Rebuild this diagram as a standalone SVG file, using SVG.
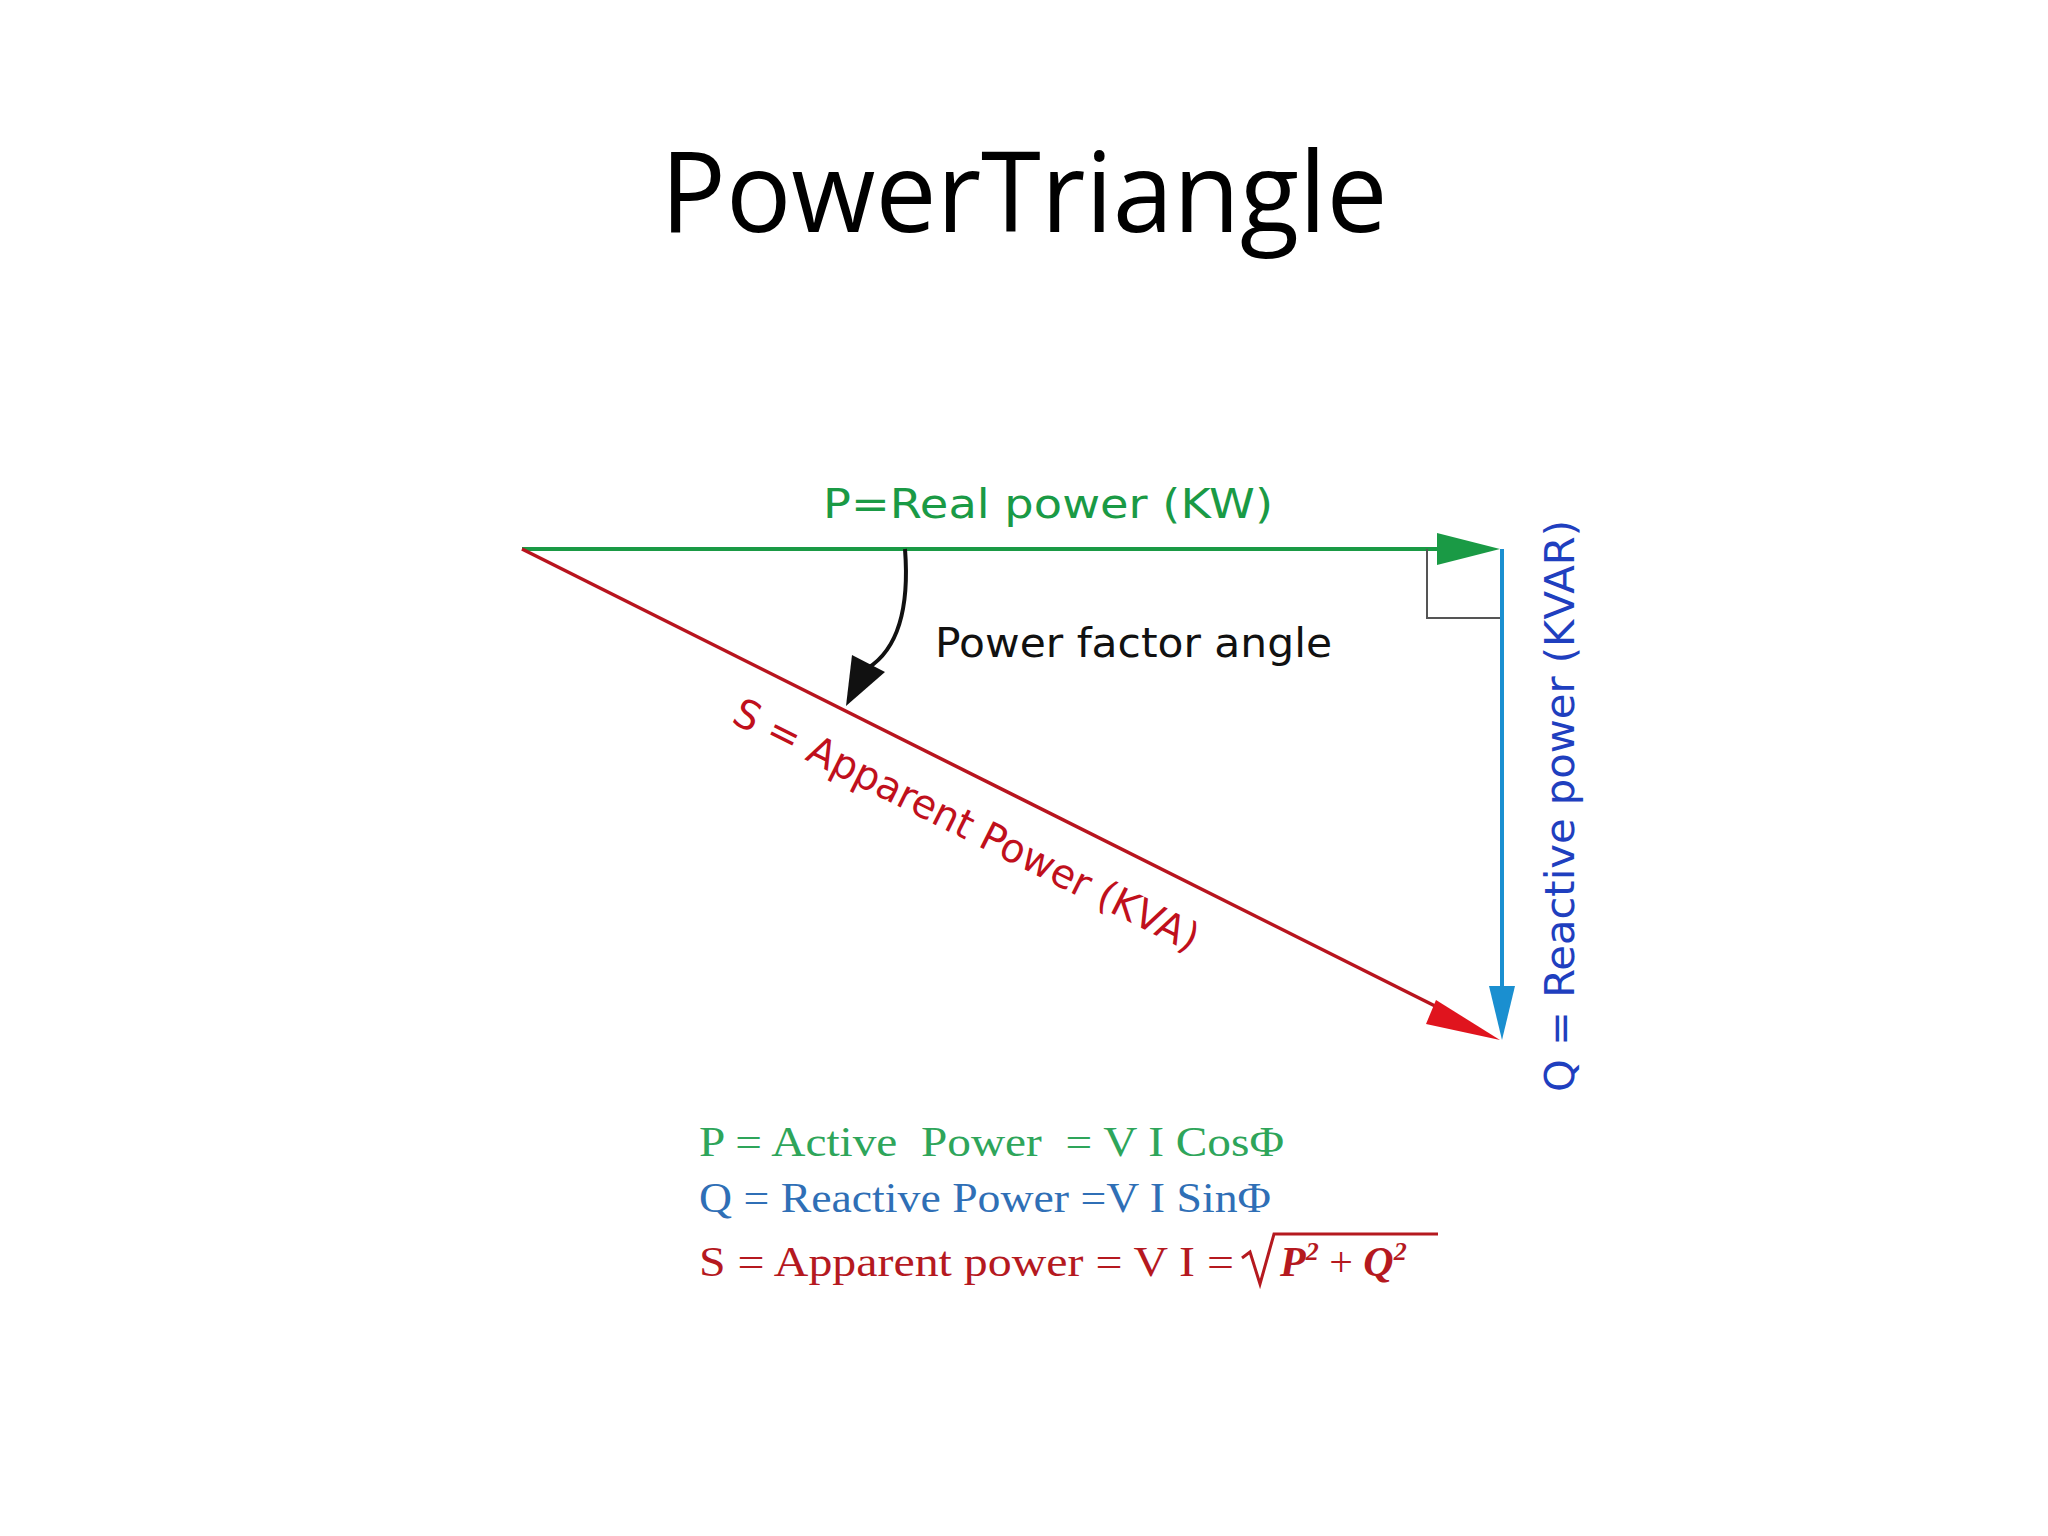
<svg xmlns="http://www.w3.org/2000/svg" width="2048" height="1536" viewBox="0 0 2048 1536">
<style>
.lbl{font-family:"DejaVu Sans",Verdana,sans-serif;font-size:40px}
.f{font-family:"Liberation Serif",serif;font-size:42px}
</style>
<defs>
<marker id="ag" markerWidth="10" markerHeight="6" refX="10" refY="3" orient="auto" markerUnits="userSpaceOnUse" viewBox="0 0 10 6"><path d="M0,0L10,3L0,6z" fill="#1a9a45"/></marker>
</defs>
<rect width="2048" height="1536" fill="#fff"/>
<text x="1024" y="232" text-anchor="middle" font-family="Open Sans,Liberation Sans,sans-serif" font-size="112" textLength="727" lengthAdjust="spacingAndGlyphs">PowerTriangle</text>
<g id="connectors">
<line x1="522" y1="549" x2="1440" y2="549" stroke="#1a9a45" stroke-width="4"/>
<path d="M1437,533L1500,549L1437,565z" fill="#1a9a45"/>
<line x1="1502" y1="549" x2="1502" y2="990" stroke="#1a8fd0" stroke-width="4"/>
<path d="M1489,986L1502,1040L1515,986z" fill="#1a8fd0"/>
<line x1="522" y1="549" x2="1445" y2="1011" stroke="#b8141e" stroke-width="3.5"/>
<path d="M1436,1000L1500,1040L1426,1024z" fill="#e0141e"/>
<path d="M1427,549V618H1500" fill="none" stroke="#555" stroke-width="2"/>
<path d="M905,549Q912,640 868,668" fill="none" stroke="#111" stroke-width="4"/>
<path d="M852,655L846,706L885,672z" fill="#111"/>
</g>
<g id="labels">
<text class="lbl" x="823" y="518" fill="#1a9a45" textLength="450" lengthAdjust="spacingAndGlyphs">P=Real power (KW)</text>
<text class="lbl" x="935" y="657" font-size="38" fill="#111" textLength="397" lengthAdjust="spacingAndGlyphs">Power factor angle</text>
<text class="lbl" transform="translate(1574,1092) rotate(-90)" fill="#1f3fbf" textLength="572" lengthAdjust="spacingAndGlyphs">Q = Reactive power (KVAR)</text>
<text class="lbl" transform="translate(730,722) rotate(26.6)" fill="#c0101c" textLength="515" lengthAdjust="spacingAndGlyphs">S = Apparent Power (KVA)</text>
</g>
<g id="formulas">
<text class="f" x="699" y="1156" fill="#2ea55a" textLength="585" lengthAdjust="spacingAndGlyphs" xml:space="preserve">P = Active  Power  = V I CosΦ</text>
<text class="f" x="699" y="1212" fill="#2f6fb6" textLength="572" lengthAdjust="spacingAndGlyphs">Q = Reactive Power =V I SinΦ</text>
<text class="f" x="699" y="1276" fill="#b5191f" textLength="535" lengthAdjust="spacingAndGlyphs">S = Apparent power = V I =</text>
<path d="M1242,1258L1250,1252L1260,1284L1274,1234H1438" fill="none" stroke="#b5191f" stroke-width="3"/>
<text x="1280" y="1276" font-family="Liberation Serif,serif" font-size="42" font-style="italic" font-weight="bold" fill="#b5191f">P<tspan font-size="26" dy="-16">2</tspan><tspan dy="16" font-style="normal" font-weight="normal"> + </tspan>Q<tspan font-size="26" dy="-16">2</tspan></text>
</g>
</svg>
